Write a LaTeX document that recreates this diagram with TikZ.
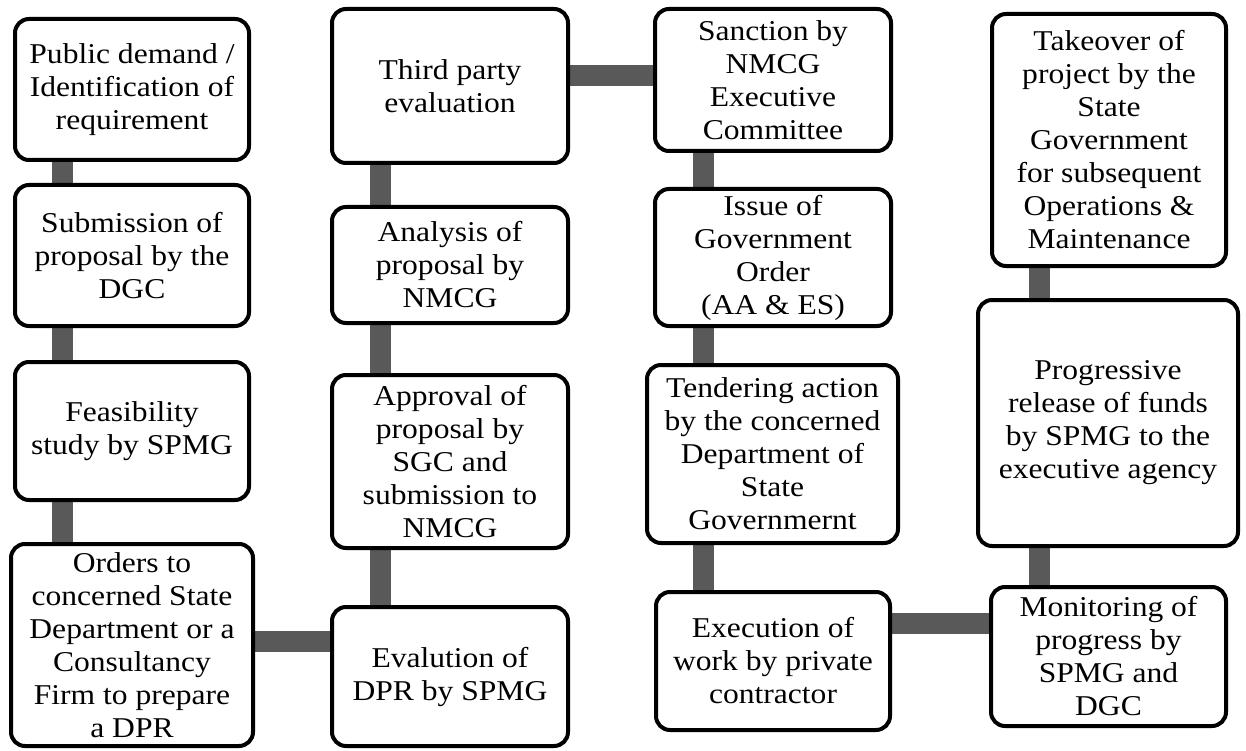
\documentclass[tikz,border=0pt]{standalone}
\usepackage{fontspec}
\setmainfont[FakeStretch=1.1]{Liberation Serif}
\usetikzlibrary{backgrounds}
\definecolor{linkgray}{RGB}{89,89,89}

\begin{document}
\begin{tikzpicture}[x=1pt,y=-1pt,
    box/.style={draw,line width=4pt,rounded corners=14pt,fill=white,inner sep=0pt,
        align=center,font=\fontsize{28.7}{33}\selectfont},
    link/.style={draw=linkgray,line width=21pt}]
    \useasboundingbox (0,0) rectangle (1246,751);

    % Project steps, column by column
    \node[box,minimum width=234pt,minimum height=141pt] (demand) at (132,89.5) {Public demand /\\Identification of\\requirement};

    \node[box,minimum width=234pt,minimum height=141pt] (submit) at (132,255.5) {Submission of\\proposal by the\\DGC};

    \node[box,minimum width=234pt,minimum height=138pt] (feasible) at (132,431) {Feasibility\\study by SPMG};

    \node[box,minimum width=242pt,minimum height=202pt] (orders) at (132,645) {Orders to\\concerned State\\Department or a\\Consultancy\\Firm to prepare\\a DPR};

    \node[box,minimum width=236pt,minimum height=139pt] (dpreval) at (450,676.5) {Evalution of\\DPR by SPMG};

    \node[box,minimum width=236pt,minimum height=173pt] (approval) at (450,461.5) {Approval of\\proposal by\\SGC and\\submission to\\NMCG};

    \node[box,minimum width=236pt,minimum height=116pt] (analysis) at (450,265) {Analysis of\\proposal by\\NMCG};

    \node[box,minimum width=236pt,minimum height=154pt] (thirdparty) at (450,86) {Third party\\evaluation};

    \node[box,minimum width=236pt,minimum height=142pt] (sanction) at (773,80) {Sanction by\\NMCG\\Executive\\Committee};

    \node[box,minimum width=236pt,minimum height=137pt] (govorder) at (773,257.5) {Issue of\\Government\\Order\\(AA \& ES)};

    \node[box,minimum width=251pt,minimum height=178pt] (tender) at (772.5,454) {Tendering action\\by the concerned\\Department of\\State\\Governmernt};

    \node[box,minimum width=234pt,minimum height=138pt] (execution) at (773,661) {Execution of\\work by private\\contractor};

    \node[box,minimum width=235pt,minimum height=139pt] (monitor) at (1108.5,656.5) {Monitoring of\\progress by\\SPMG and\\DGC};

    \node[box,minimum width=260pt,minimum height=246pt] (release) at (1108,423) {Progressive\\release of funds\\by SPMG to the\\executive agency};

    \node[box,minimum width=234pt,minimum height=252pt] (takeover) at (1109,140) {Takeover of\\project by the\\State\\Government\\for subsequent\\Operations \&\\Maintenance};

    % Connector lines
    \coordinate (col1) at (62,0);
    \coordinate (col2) at (380,0);
    \coordinate (col3) at (703,0);
    \coordinate (col4) at (1039,0);
    \coordinate (row1) at (0,76);
    \coordinate (row2) at (0,623);
    \coordinate (row3) at (0,641);

    \begin{scope}[on background layer]
    \draw[link] (demand.south -| col1) -- (submit.north -| col1);
    \draw[link] (submit.south -| col1) -- (feasible.north -| col1);
    \draw[link] (feasible.south -| col1) -- (orders.north -| col1);
    \draw[link] (orders.east |- row3) -- (dpreval.west |- row3);

    \draw[link] (dpreval.north -| col2) -- (approval.south -| col2);
    \draw[link] (approval.north -| col2) -- (analysis.south -| col2);
    \draw[link] (analysis.north -| col2) -- (thirdparty.south -| col2);
    \draw[link] (thirdparty.east |- row1) -- (sanction.west |- row1);

    \draw[link] (sanction.south -| col3) -- (govorder.north -| col3);
    \draw[link] (govorder.south -| col3) -- (tender.north -| col3);
    \draw[link] (tender.south -| col3) -- (execution.north -| col3);
    \draw[link] (execution.east |- row2) -- (monitor.west |- row2);

    \draw[link] (monitor.north -| col4) -- (release.south -| col4);
    \draw[link] (release.north -| col4) -- (takeover.south -| col4);
    \end{scope}
\end{tikzpicture}
\end{document}
